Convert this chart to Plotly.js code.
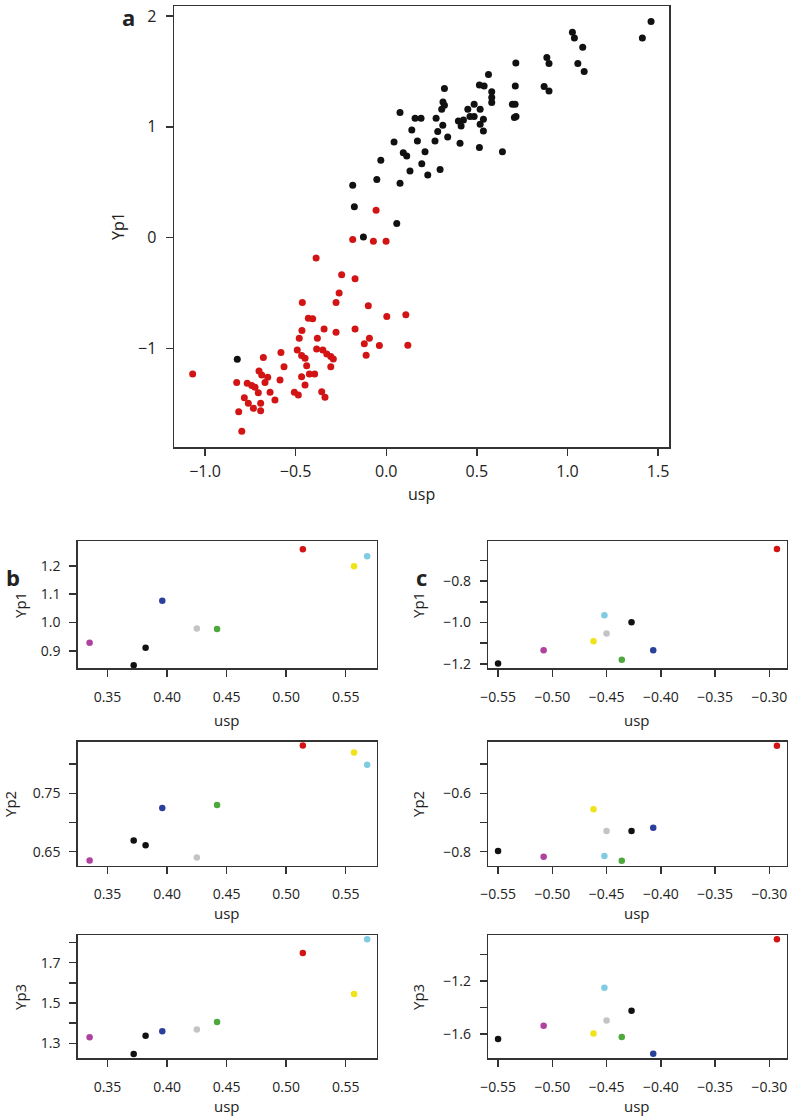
<!DOCTYPE html>
<html>
<head>
<meta charset="utf-8">
<script src="https://cdn.plot.ly/plotly-3.0.1.min.js"></script>
<style>html,body{margin:0;padding:0;background:#fff;}#chart{width:792px;height:1118px;}</style>
</head>
<body>
<div id="chart"></div>
<script>
// ---------- Panel a data ----------
const aBlackUsp = [0.076,0.159,0.192,0.141,0.172,0.043,0.214,0.094,0.113,-0.030,0.196,0.131,0.229,-0.052,0.076,-0.185,-0.176,0.058,-0.126,0.275,0.284,0.269,0.297,1.461,1.413,1.027,1.038,1.084,1.057,1.092,0.886,0.898,0.871,0.898,0.715,0.712,0.696,0.711,0.707,0.716,0.564,0.514,0.540,0.582,0.582,0.582,0.321,0.313,0.321,0.306,0.485,0.518,0.450,0.462,0.485,0.398,0.426,0.413,0.536,0.518,0.536,0.312,0.339,0.407,0.514,0.641,-0.822];
const aBlackYp1 = [1.128,1.077,1.077,0.971,0.872,0.863,0.775,0.766,0.736,0.697,0.667,0.600,0.564,0.525,0.491,0.473,0.278,0.127,0.006,1.077,0.957,0.872,0.615,1.949,1.801,1.852,1.801,1.717,1.572,1.499,1.626,1.572,1.364,1.324,1.575,1.369,1.204,1.204,1.083,1.092,1.472,1.376,1.369,1.315,1.264,1.219,1.346,1.224,1.195,1.158,1.204,1.158,1.158,1.092,1.092,1.053,1.062,1.007,1.068,1.023,0.962,1.014,0.908,0.851,0.812,0.775,-1.098];
const aRedUsp = [-0.056,-0.185,-0.071,-0.001,-0.387,-0.246,-0.172,-0.260,-0.277,-0.463,-0.099,-0.430,-0.406,0.003,0.108,-0.343,-0.172,-0.465,-0.277,-0.380,-0.480,-0.093,-0.121,-0.038,0.119,-0.581,-0.491,-0.384,-0.350,-0.467,-0.448,-0.328,-0.306,-0.292,-0.111,-0.678,-0.439,-0.564,-0.306,-0.702,-0.687,-0.654,-0.467,-0.424,-0.395,-0.586,-0.669,-0.825,-0.767,-0.742,-0.724,-0.706,-0.448,-0.641,-0.507,-0.485,-0.356,-0.338,-0.783,-0.614,-0.761,-0.733,-0.693,-0.693,-0.814,-0.797,-1.068];
const aRedYp1 = [0.247,-0.018,-0.033,-0.033,-0.184,-0.335,-0.371,-0.501,-0.585,-0.585,-0.615,-0.727,-0.733,-0.712,-0.697,-0.826,-0.826,-0.839,-0.854,-0.908,-0.908,-0.908,-0.959,-0.974,-0.971,-1.038,-1.014,-1.005,-1.014,-1.065,-1.089,-1.050,-1.074,-1.095,-1.062,-1.083,-1.156,-1.165,-1.165,-1.204,-1.240,-1.261,-1.255,-1.231,-1.231,-1.285,-1.309,-1.309,-1.315,-1.336,-1.351,-1.400,-1.330,-1.396,-1.396,-1.421,-1.391,-1.442,-1.445,-1.466,-1.496,-1.541,-1.496,-1.563,-1.572,-1.747,-1.231];

// ---------- Panel b data ----------
const bUsp = [0.335,0.372,0.382,0.396,0.425,0.442,0.514,0.557,0.568];
const bYp1 = [0.928,0.849,0.911,1.077,0.979,0.977,1.259,1.199,1.234];
const bYp2 = [0.635,0.669,0.661,0.725,0.640,0.730,0.832,0.820,0.799];
const bYp3 = [1.330,1.247,1.338,1.360,1.368,1.405,1.748,1.545,1.816];
const bColors = ['#b0429f','#111111','#111111','#2b3f9c','#c4c4c4','#4fa83d','#d21414','#f2e21a','#7fcbe2'];

// ---------- Panel c data ----------
const cUsp = [-0.550,-0.508,-0.462,-0.452,-0.450,-0.436,-0.427,-0.407,-0.293];
const cYp1 = [-1.198,-1.134,-1.090,-0.965,-1.053,-1.180,-0.999,-1.134,-0.646];
const cYp2 = [-0.798,-0.817,-0.655,-0.815,-0.729,-0.831,-0.729,-0.718,-0.437];
const cYp3 = [-1.638,-1.539,-1.597,-1.251,-1.499,-1.623,-1.424,-1.750,-0.884];
const cColors = ['#111111','#b0429f','#f2e21a','#7fcbe2','#c4c4c4','#4fa83d','#111111','#2b3f9c','#d21414'];

// ---------- Tick labels ----------
const aXTickVals = [-1.0,-0.5,0.0,0.5,1.0,1.5];
const aXTickText = ['\u22121.0','\u22120.5','0.0','0.5','1.0','1.5'];
const aYTickVals = [-1,0,1,2];
const aYTickText = ['\u22121','0','1','2'];
const bXTickVals = [0.35,0.40,0.45,0.50,0.55];
const bXTickText = ['0.35','0.40','0.45','0.50','0.55'];
const b1TickVals = [0.9,1.0,1.1,1.2];
const b1TickText = ['0.9','1.0','1.1','1.2'];
const b2TickVals = [0.65,0.70,0.75,0.80];
const b2TickText = ['0.65','','0.75',''];
const b3TickVals = [1.3,1.4,1.5,1.6,1.7,1.8];
const b3TickText = ['1.3','','1.5','','1.7',''];
const cXTickVals = [-0.55,-0.50,-0.45,-0.40,-0.35,-0.30];
const cXTickText = ['\u22120.55','\u22120.50','\u22120.45','\u22120.40','\u22120.35','\u22120.30'];
const c1TickVals = [-1.2,-1.1,-1.0,-0.9,-0.8,-0.7];
const c1TickText = ['\u22121.2','','\u22121.0','','\u22120.8',''];
const c2TickVals = [-0.8,-0.7,-0.6,-0.5];
const c2TickText = ['\u22120.8','','\u22120.6',''];
const c3TickVals = [-1.6,-1.4,-1.2,-1.0];
const c3TickText = ['\u22121.6','','\u22121.2',''];

const W = 792, H = 1118;
const FONT = 'Open Sans, Liberation Sans, sans-serif';
const TXT = '#222222';
const LINE = '#333333';

function xd(l, r) { return [l / W, r / W]; }
function yd(top, bottom) { return [1 - bottom / H, 1 - top / H]; }

function axis(domain, range, vals, text, anchor, fsize, standoff) {
  return {
    domain: domain, range: range, anchor: anchor,
    tickmode: 'array', tickvals: vals, ticktext: text,
    showline: true, mirror: true, linecolor: LINE, linewidth: 1.5,
    ticks: 'outside', ticklen: 7, tickwidth: 1.5, tickcolor: LINE,
    showgrid: false, zeroline: false, fixedrange: true,
    ticklabelstandoff: standoff,
    tickfont: {family: FONT, size: fsize, color: TXT}
  };
}

const dotA = 7, dotB = 6.5;
const traces = [
  {x: aRedUsp, y: aRedYp1, type: 'scatter', mode: 'markers', xaxis: 'x', yaxis: 'y', cliponaxis: false,
   marker: {color: '#d21414', size: dotA}},
  {x: aBlackUsp, y: aBlackYp1, type: 'scatter', mode: 'markers', xaxis: 'x', yaxis: 'y', cliponaxis: false,
   marker: {color: '#111111', size: dotA}},
  {x: bUsp, y: bYp1, type: 'scatter', mode: 'markers', xaxis: 'x2', yaxis: 'y2', cliponaxis: false, marker: {color: bColors, size: dotB}},
  {x: bUsp, y: bYp2, type: 'scatter', mode: 'markers', xaxis: 'x3', yaxis: 'y3', cliponaxis: false, marker: {color: bColors, size: dotB}},
  {x: bUsp, y: bYp3, type: 'scatter', mode: 'markers', xaxis: 'x4', yaxis: 'y4', cliponaxis: false, marker: {color: bColors, size: dotB}},
  {x: cUsp, y: cYp1, type: 'scatter', mode: 'markers', xaxis: 'x5', yaxis: 'y5', cliponaxis: false, marker: {color: cColors, size: dotB}},
  {x: cUsp, y: cYp2, type: 'scatter', mode: 'markers', xaxis: 'x6', yaxis: 'y6', cliponaxis: false, marker: {color: cColors, size: dotB}},
  {x: cUsp, y: cYp3, type: 'scatter', mode: 'markers', xaxis: 'x7', yaxis: 'y7', cliponaxis: false, marker: {color: cColors, size: dotB}}
];

const aX = xd(174, 669), bX = xd(77.7, 376.7), cX = xd(488.3, 786.7);
const r1 = yd(541, 668.3), r2 = yd(741.7, 865.7), r3 = yd(935, 1058.3);
const FA = 16, FB = 14;

function ann(text, x, y, size, opts) {
  return Object.assign({text: text, x: x / W, y: 1 - y / H, xref: 'paper', yref: 'paper',
    showarrow: false, xanchor: 'center', yanchor: 'middle',
    font: {family: FONT, size: size, color: TXT}}, opts || {});
}

const layout = {
  width: W, height: H, showlegend: false,
  margin: {l: 0, r: 0, t: 0, b: 0},
  paper_bgcolor: '#ffffff', plot_bgcolor: '#ffffff',
  xaxis: axis(aX, [-1.171, 1.56], aXTickVals, aXTickText, 'y', FA, 2),
  yaxis: axis(yd(6, 447), [-1.89, 2.09], aYTickVals, aYTickText, 'x', FA, 6),
  xaxis2: axis(bX, [0.325, 0.576], bXTickVals, bXTickText, 'y2', FB, 8),
  yaxis2: axis(r1, [0.838, 1.288], b1TickVals, b1TickText, 'x2', FB, 6),
  xaxis3: axis(bX, [0.325, 0.576], bXTickVals, bXTickText, 'y3', FB, 8),
  yaxis3: axis(r2, [0.626, 0.8385], b2TickVals, b2TickText, 'x3', FB, 6),
  xaxis4: axis(bX, [0.325, 0.576], bXTickVals, bXTickText, 'y4', FB, 8),
  yaxis4: axis(r3, [1.2256, 1.837], b3TickVals, b3TickText, 'x4', FB, 6),
  xaxis5: axis(cX, [-0.559, -0.284], cXTickVals, cXTickText, 'y5', FB, 8),
  yaxis5: axis(r1, [-1.221, -0.607], c1TickVals, c1TickText, 'x5', FB, 6),
  xaxis6: axis(cX, [-0.559, -0.284], cXTickVals, cXTickText, 'y6', FB, 8),
  yaxis6: axis(r2, [-0.848, -0.4233], c2TickVals, c2TickText, 'x6', FB, 6),
  xaxis7: axis(cX, [-0.559, -0.284], cXTickVals, cXTickText, 'y7', FB, 8),
  yaxis7: axis(r3, [-1.785, -0.851], c3TickVals, c3TickText, 'x7', FB, 6),
  annotations: [
    ann('<b>a</b>', 128, 17, 22),
    ann('<b>b</b>', 13, 577, 22),
    ann('<b>c</b>', 421, 577, 22),
    ann('usp', 421, 494, FA),
    ann('Yp1', 118, 226, FA, {textangle: -90}),
    ann('usp', 227, 720, FB + 1),
    ann('usp', 227, 913, FB + 1),
    ann('usp', 227, 1106, FB + 1),
    ann('Yp1', 20, 605, FB + 1, {textangle: -90}),
    ann('Yp2', 10, 804, FB + 1, {textangle: -90}),
    ann('Yp3', 20, 997, FB + 1, {textangle: -90}),
    ann('usp', 637, 720, FB + 1),
    ann('usp', 637, 913, FB + 1),
    ann('usp', 637, 1106, FB + 1),
    ann('Yp1', 418, 605, FB + 1, {textangle: -90}),
    ann('Yp2', 418, 804, FB + 1, {textangle: -90}),
    ann('Yp3', 418, 997, FB + 1, {textangle: -90})
  ]
};

Plotly.newPlot('chart', traces, layout, {staticPlot: true, displayModeBar: false});
</script>
</body>
</html>
